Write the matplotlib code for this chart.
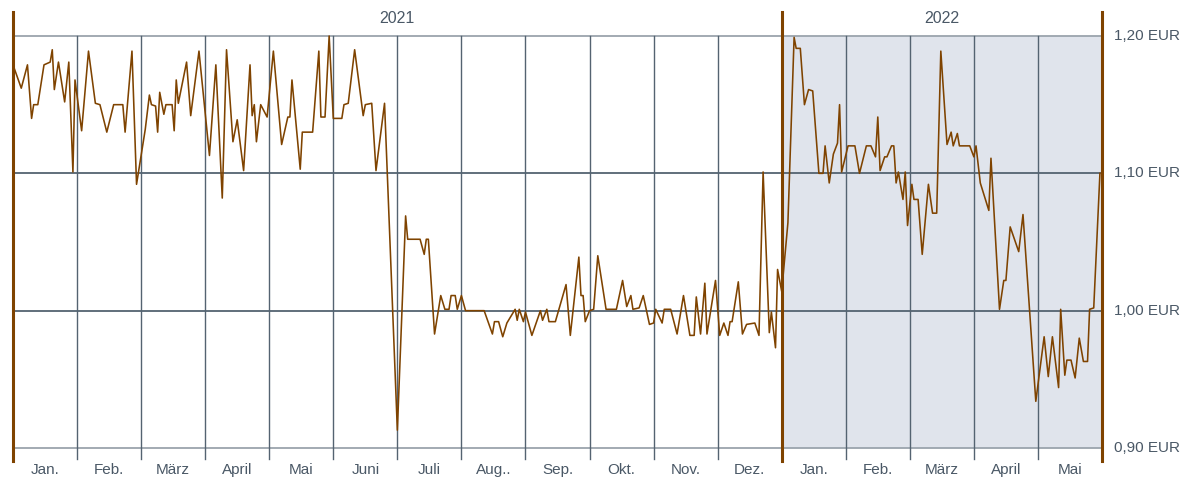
import matplotlib
matplotlib.use("Agg")
import matplotlib.pyplot as plt
import pandas as pd

plt.rcParams['font.family'] = ['Liberation Sans', 'DejaVu Sans']

# ---- data -------------------------------------------------------------
dates = [
    "2021-01-01", "2021-01-05", "2021-01-08", "2021-01-10", "2021-01-11", "2021-01-13",
    "2021-01-16", "2021-01-19", "2021-01-20", "2021-01-21", "2021-01-23", "2021-01-26",
    "2021-01-28", "2021-01-30", "2021-01-31",
    "2021-02-03", "2021-02-06", "2021-02-09", "2021-02-11", "2021-02-14", "2021-02-17",
    "2021-02-21", "2021-02-22", "2021-02-25", "2021-02-27",
    "2021-03-03", "2021-03-05", "2021-03-06", "2021-03-08", "2021-03-09", "2021-03-10",
    "2021-03-12", "2021-03-13", "2021-03-16", "2021-03-17", "2021-03-18", "2021-03-19",
    "2021-03-23", "2021-03-25", "2021-03-29",
    "2021-04-03", "2021-04-06", "2021-04-09", "2021-04-11", "2021-04-14", "2021-04-16",
    "2021-04-19", "2021-04-22", "2021-04-23", "2021-04-24", "2021-04-25", "2021-04-27",
    "2021-04-30",
    "2021-05-03", "2021-05-07", "2021-05-10", "2021-05-11", "2021-05-12", "2021-05-16",
    "2021-05-17", "2021-05-22", "2021-05-25", "2021-05-26", "2021-05-28", "2021-05-30",
    "2021-06-01", "2021-06-05", "2021-06-06", "2021-06-08", "2021-06-11", "2021-06-15",
    "2021-06-16", "2021-06-19", "2021-06-21", "2021-06-25",
    "2021-07-01", "2021-07-05", "2021-07-06", "2021-07-12", "2021-07-14", "2021-07-15",
    "2021-07-16", "2021-07-19", "2021-07-22", "2021-07-24", "2021-07-26", "2021-07-27",
    "2021-07-29", "2021-07-30",
    "2021-08-01", "2021-08-03", "2021-08-12", "2021-08-16", "2021-08-17", "2021-08-19",
    "2021-08-21", "2021-08-23", "2021-08-27", "2021-08-28", "2021-08-29", "2021-08-31",
    "2021-09-01", "2021-09-04", "2021-09-08", "2021-09-09", "2021-09-11", "2021-09-12",
    "2021-09-15", "2021-09-20", "2021-09-22", "2021-09-26", "2021-09-27", "2021-09-28",
    "2021-09-29",
    "2021-10-01", "2021-10-03", "2021-10-05", "2021-10-09", "2021-10-14", "2021-10-17",
    "2021-10-19", "2021-10-21", "2021-10-22", "2021-10-25", "2021-10-27", "2021-10-30",
    "2021-11-01", "2021-11-02", "2021-11-05", "2021-11-06", "2021-11-09", "2021-11-12",
    "2021-11-15", "2021-11-18", "2021-11-20", "2021-11-21", "2021-11-23", "2021-11-25",
    "2021-11-26", "2021-11-30",
    "2021-12-02", "2021-12-04", "2021-12-06", "2021-12-07", "2021-12-08", "2021-12-11",
    "2021-12-13", "2021-12-15", "2021-12-19", "2021-12-21", "2021-12-23", "2021-12-26",
    "2021-12-27", "2021-12-29", "2021-12-30",
    "2022-01-01", "2022-01-04", "2022-01-07", "2022-01-08", "2022-01-10", "2022-01-12",
    "2022-01-14", "2022-01-16", "2022-01-19", "2022-01-21", "2022-01-22", "2022-01-24",
    "2022-01-26", "2022-01-28", "2022-01-29", "2022-01-30",
    "2022-02-02", "2022-02-05", "2022-02-07", "2022-02-10", "2022-02-12", "2022-02-14",
    "2022-02-15", "2022-02-16", "2022-02-18", "2022-02-19", "2022-02-21", "2022-02-22",
    "2022-02-23", "2022-02-24", "2022-02-26", "2022-02-27", "2022-02-28",
    "2022-03-02", "2022-03-03", "2022-03-05", "2022-03-07", "2022-03-10", "2022-03-12",
    "2022-03-14", "2022-03-16", "2022-03-19", "2022-03-21", "2022-03-22", "2022-03-24",
    "2022-03-25", "2022-03-30",
    "2022-04-01", "2022-04-02", "2022-04-04", "2022-04-08", "2022-04-09", "2022-04-13",
    "2022-04-15", "2022-04-16", "2022-04-18", "2022-04-22", "2022-04-24", "2022-04-30",
    "2022-05-04", "2022-05-06", "2022-05-08", "2022-05-11", "2022-05-12", "2022-05-14",
    "2022-05-15", "2022-05-17", "2022-05-19", "2022-05-21", "2022-05-23", "2022-05-25",
    "2022-05-26", "2022-05-28", "2022-05-31",
]
prices = [
    1.179, 1.162, 1.179, 1.140, 1.150, 1.150,
    1.179, 1.181, 1.190, 1.161, 1.181, 1.152,
    1.181, 1.101, 1.168,
    1.131, 1.189, 1.151, 1.150, 1.130, 1.150,
    1.150, 1.130, 1.189, 1.092,
    1.132, 1.157, 1.150, 1.149, 1.130, 1.159,
    1.143, 1.150, 1.150, 1.131, 1.168, 1.151,
    1.181, 1.142, 1.189,
    1.113, 1.179, 1.082, 1.190, 1.123, 1.139,
    1.102, 1.179, 1.142, 1.150, 1.123, 1.150,
    1.141,
    1.189, 1.121, 1.141, 1.141, 1.168, 1.103,
    1.130, 1.130, 1.189, 1.141, 1.141, 1.200,
    1.140, 1.140, 1.150, 1.151, 1.190, 1.142,
    1.150, 1.151, 1.102, 1.151,
    0.913, 1.069, 1.052, 1.052, 1.041, 1.052,
    1.052, 0.983, 1.011, 1.001, 1.001, 1.011,
    1.011, 1.001,
    1.011, 1.000, 1.000, 0.983, 0.992, 0.992,
    0.981, 0.991, 1.001, 0.993, 1.001, 0.992,
    0.999, 0.982, 1.000, 0.993, 1.001, 0.992,
    0.992, 1.019, 0.982, 1.039, 1.011, 1.011,
    0.992,
    1.000, 1.001, 1.040, 1.001, 1.001, 1.022,
    1.003, 1.011, 1.001, 1.002, 1.011, 0.990,
    0.991, 1.001, 0.991, 1.001, 1.001, 0.983,
    1.011, 0.982, 0.982, 1.010, 0.983, 1.020,
    0.983, 1.022,
    0.982, 0.991, 0.982, 0.992, 0.992, 1.021,
    0.983, 0.990, 0.991, 0.982, 1.101, 0.984,
    0.999, 0.973, 1.030,
    1.014, 1.064, 1.199, 1.191, 1.191, 1.150,
    1.161, 1.160, 1.100, 1.100, 1.120, 1.093,
    1.114, 1.122, 1.150, 1.101,
    1.120, 1.120, 1.100, 1.120, 1.120, 1.112,
    1.141, 1.102, 1.112, 1.112, 1.120, 1.120,
    1.093, 1.101, 1.081, 1.101, 1.062,
    1.092, 1.081, 1.081, 1.041, 1.092, 1.071,
    1.071, 1.189, 1.121, 1.130, 1.120, 1.129,
    1.120, 1.120,
    1.112, 1.120, 1.093, 1.073, 1.111, 1.001,
    1.022, 1.022, 1.061, 1.043, 1.070, 0.934,
    0.981, 0.952, 0.981, 0.944, 1.001, 0.953,
    0.964, 0.964, 0.951, 0.980, 0.963, 0.963,
    1.001, 1.002, 1.100,
]
month_labels = ["Jan.", "Feb.", "März", "April", "Mai", "Juni", "Juli", "Aug..",
                "Sep.", "Okt.", "Nov.", "Dez.",
                "Jan.", "Feb.", "März", "April", "Mai"]
years = ["2021", "2022"]
y_ticks = [0.90, 1.00, 1.10, 1.20]
y_tick_labels = ["0,90 EUR", "1,00 EUR", "1,10 EUR", "1,20 EUR"]

# ---- helpers ------------------------------------------------------------
d = pd.to_datetime(pd.Series(dates))
xpos = ((d.dt.year - 2021) * 12 + d.dt.month - 1
        + (d.dt.day - 1) / d.dt.days_in_month).to_numpy()

n_months = len(month_labels)
BROWN = "#7f4300"
DARK = "#546371"
LIGHT = "#9ba4ad"
TEXT = "#4a5866"
FS = 11

W, H = 1185, 479
fig = plt.figure(figsize=(W / 100, H / 100), dpi=100)
# axes spans pixel x 13..1102, pixel y 12..463
ax = fig.add_axes([13 / W, (H - 463) / H, (1102 - 13) / W, (463 - 12) / H])
per_px = 0.30 / 412.0
ymax = 1.20 + 24 * per_px
ymin = 0.90 - 15 * per_px
ax.set_xlim(0, n_months)
ax.set_ylim(ymin, ymax)
ax.axis("off")

# 2022 shading
ax.fill_between([12, n_months], 0.90, 1.20, color="#e0e4ec", lw=0, zorder=0)

# horizontal grid lines
for v in y_ticks:
    col = LIGHT if v in (0.90, 1.20) else DARK
    ax.plot([0, n_months], [v, v], color=col, lw=1.3, zorder=1)

def frac(v):
    return (v - ymin) / (ymax - ymin)

# vertical month lines
for m in range(1, n_months):
    if m == 12:
        continue
    ax.axvline(m, ymin=frac(0.90 - 11 * per_px), ymax=frac(1.20), color=DARK,
               lw=1.0, zorder=1)

# year boundary lines (brown)
for m in (0, 12, n_months):
    ax.axvline(m, ymin=frac(0.90 - 13 * per_px), ymax=1.0, color=BROWN,
               lw=2.2, zorder=3, clip_on=False)

# data line
ax.plot(xpos, prices, color=BROWN, lw=1.15, zorder=4)

# month labels
for i, lab in enumerate(month_labels):
    ax.text(i + 0.5, 0.90 - 22 * per_px, lab, ha="center", va="center",
            fontsize=FS, color=TEXT)

# year labels
ax.text(6, 1.20 + 17 * per_px, years[0], ha="center", va="center",
        fontsize=FS + 0.5, color=TEXT)
ax.text(12 + (n_months - 12) / 2, 1.20 + 17 * per_px, years[1], ha="center",
        va="center", fontsize=FS + 0.5, color=TEXT)

# y tick labels on the right
for v, lab in zip(y_ticks, y_tick_labels):
    ax.text(n_months + 0.19, v, lab, ha="left", va="center", fontsize=FS,
            color=TEXT)

fig.savefig("out.png", dpi=100)
